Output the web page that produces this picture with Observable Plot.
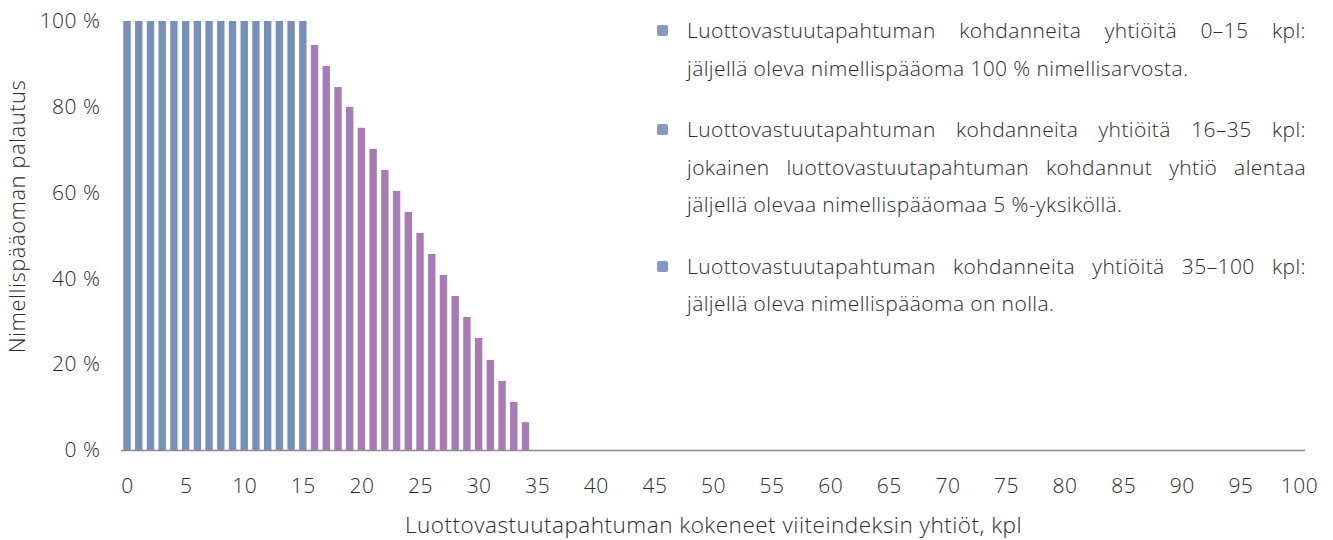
<!DOCTYPE html>
<html>
<head>
<meta charset="utf-8">
<script src="https://cdn.jsdelivr.net/npm/d3@7"></script>
<script src="https://cdn.jsdelivr.net/npm/@observablehq/plot@0.6"></script>
<style>
  html, body { margin: 0; padding: 0; background: #fff; }
  #wrap { position: relative; width: 1333px; height: 540px; font-family: "Open Sans", sans-serif; color: #333; }
  #legend { position: absolute; left: 657px; top: 12px; width: 649px; font-size: 21px; font-weight: 300; color: #2b2b2b; letter-spacing: 0.4px; }
  .item { position: relative; padding-left: 30px; margin-bottom: 24px; }
  .item .sw { position: absolute; left: 0; top: 13px; width: 11px; height: 11px; border-radius: 2px; }
  .line { line-height: 37.5px; height: 37.5px; white-space: nowrap; }
  .line.j { text-align: justify; text-align-last: justify; white-space: normal; overflow: hidden; }
</style>
</head>
<body>
<div id="wrap"></div>
<script>
// ---- data ----
const companies = [0,1,2,3,4,5,6,7,8,9,10,11,12,13,14,15,16,17,18,19,20,21,22,23,24,25,26,27,28,29,30,31,32,33,34,35,36,37,38,39,40,41,42,43,44,45,46,47,48,49,50,51,52,53,54,55,56,57,58,59,60,61,62,63,64,65,66,67,68,69,70,71,72,73,74,75,76,77,78,79,80,81,82,83,84,85,86,87,88,89,90,91,92,93,94,95,96,97,98,99,100];
const recovery = [100,100,100,100,100,100,100,100,100,100,100,100,100,100,100,100,
  94.4,89.5,84.6,80.0,75.1,70.2,65.3,60.4,55.5,50.6,45.7,40.8,35.9,31.0,26.1,21.0,16.1,11.2,6.5,
  0,0,0,0,0,0,0,0,0,0,0,0,0,0,0,0,0,0,0,0,0,0,0,0,0,0,0,0,0,0,0,0,0,0,0,0,0,0,0,0,0,0,0,0,0,0,0,0,0,0,0,0,0,0,0,0,0,0,0,0,0,0,0,0,0,0];
const segments = ["0–15", "16–35", "35–100"];
const segmentColors = ["#7690ba", "#a97bb6", "#7690ba"];
const legendColors = ["#8499c4", "#8499c4", "#8499c4"];
const xTicks = [0,5,10,15,20,25,30,35,40,45,50,55,60,65,70,75,80,85,90,95,100];
const yTicks = [0,20,40,60,80,100];
const xLabel = "Luottovastuutapahtuman kokeneet viiteindeksin yhtiöt, kpl";
const yLabel = "Nimellispääoman palautus";
const legendLines = [
  ["Luottovastuutapahtuman kohdanneita yhtiöitä 0–15 kpl:", "jäljellä oleva nimellispääoma 100 % nimellisarvosta."],
  ["Luottovastuutapahtuman kohdanneita yhtiöitä 16–35 kpl:", "jokainen luottovastuutapahtuman kohdannut yhtiö alentaa", "jäljellä olevaa nimellispääomaa 5 %-yksiköllä."],
  ["Luottovastuutapahtuman kohdanneita yhtiöitä 35–100 kpl:", "jäljellä oleva nimellispääoma on nolla."]
];

const data = companies.map((k, i) => ({
  k, v: recovery[i], seg: k <= 15 ? segments[0] : (k <= 35 ? segments[1] : segments[2])
}));

const chart = Plot.plot({
  width: 1333, height: 540,
  marginLeft: 121, marginRight: 28, marginTop: 21, marginBottom: 90,
  style: { fontFamily: '"Open Sans", sans-serif', fontSize: "21px", color: "#333", background: "#fff", letterSpacing: "0.5px" },
  x: { type: "band", domain: companies, paddingInner: 0.37, paddingOuter: 0.2 },
  y: { domain: [0, 100] },
  color: { domain: segments, range: segmentColors },
  marks: [
    Plot.barY(data, { x: "k", y: "v", fill: "seg" }),
    Plot.ruleY([0], { stroke: "#8c8c8c", strokeWidth: 1.5 }),
    Plot.axisX({ ticks: xTicks, tickSize: 0, tickPadding: 28, fontWeight: 300, fill: "#2b2b2b",
      label: null }),
    Plot.axisY({ ticks: yTicks, tickSize: 0, tickPadding: 21, fontWeight: 300, fill: "#2b2b2b",
      tickFormat: d => d + " %", label: null }),
    Plot.text([xLabel], { frameAnchor: "bottom", dy: 82, fontWeight: 300, fill: "#2b2b2b", fontSize: 22.5 }),
    Plot.text([yLabel], { frameAnchor: "left", textAnchor: "middle", rotate: -90, dx: -104, dy: -19.5, fontWeight: 300, fill: "#2b2b2b", fontSize: 22 })
  ]
});

const wrap = document.getElementById("wrap");
wrap.appendChild(chart);

const legend = document.createElement("div");
legend.id = "legend";
legendLines.forEach((lines, i) => {
  const item = document.createElement("div");
  item.className = "item";
  const sw = document.createElement("span");
  sw.className = "sw";
  sw.style.background = legendColors[i];
  item.appendChild(sw);
  lines.forEach((t, j) => {
    const l = document.createElement("div");
    l.className = "line" + (j < lines.length - 1 ? " j" : "");
    l.textContent = t;
    item.appendChild(l);
  });
  legend.appendChild(item);
});
wrap.appendChild(legend);
</script>
</body>
</html>
